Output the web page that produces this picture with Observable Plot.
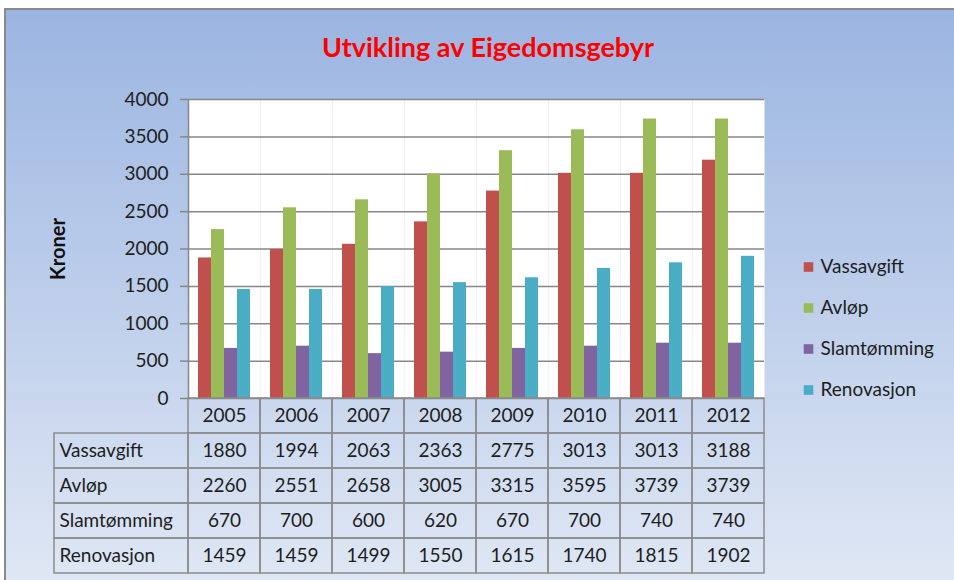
<!DOCTYPE html>
<html>
<head>
<meta charset="utf-8">
<script src="https://cdn.jsdelivr.net/npm/d3@7"></script>
<script src="https://cdn.jsdelivr.net/npm/@observablehq/plot@0.6"></script>
<style>
html, body { margin: 0; padding: 0; background: #ffffff; }
#chart { position: relative; width: 954px; height: 580px; overflow: hidden; font-family: Lato, sans-serif; }
#bg { position: absolute; left: 4px; top: 8px; right: 0; bottom: 0;
      background: linear-gradient(#9bb5e1, #dfe7f4);
      border-top: 2px solid #8a8a8a; border-left: 2px solid #8a8a8a; }
#chart svg { position: absolute; left: 0; top: 0; }
#title { position: absolute; left: 0; width: 976px; top: 32px; text-align: center;
         font: bold 27px Lato, sans-serif; color: #ff0000; line-height: 30px; }
</style>
</head>
<body>
<div id="chart"><div id="bg"></div></div>
<script>
// ---- data ----
const years = ["2005", "2006", "2007", "2008", "2009", "2010", "2011", "2012"];
const seriesNames = ["Vassavgift", "Avløp", "Slamtømming", "Renovasjon"];
const vassavgift = [1880, 1994, 2063, 2363, 2775, 3013, 3013, 3188];
const avlop = [2260, 2551, 2658, 3005, 3315, 3595, 3739, 3739];
const slamtomming = [670, 700, 600, 620, 670, 700, 740, 740];
const renovasjon = [1459, 1459, 1499, 1550, 1615, 1740, 1815, 1902];
const colors = ["#c0504d", "#9bbb59", "#8064a2", "#4bacc6"];
const yTicks = [0, 500, 1000, 1500, 2000, 2500, 3000, 3500, 4000];
const titleText = "Utvikling av Eigedomsgebyr";
const yLabel = "Kroner";
const headerKey = "år";

const seriesValues = [vassavgift, avlop, slamtomming, renovasjon];
const rows = seriesNames.flatMap((s, i) => years.map((y, j) => ({series: s, year: y, value: seriesValues[i][j]})));
const rowKeys = [headerKey, ...seriesNames];

const W = 954, H = 580;
const gridColor = "#878787";
const tableStroke = "#8c8c8c";
const textColor = "#1e1e1e";
const FS = 19;
const common = {width: W, height: H, style: "background:transparent;font-family:Lato,sans-serif;overflow:visible;"};
const chart = document.getElementById("chart");

// bars
const bars = Plot.plot({
  ...common,
  marginTop: 99, marginBottom: 182, marginLeft: 188, marginRight: 190,
  fx: {domain: years, padding: 0, axis: null, label: null},
  x: {domain: seriesNames, paddingInner: 0, paddingOuter: 0.75, axis: null},
  y: {domain: [0, 4000], axis: null},
  color: {domain: seriesNames, range: colors},
  marks: [
    Plot.frame({fill: "white", stroke: null}),
    Plot.gridY(yTicks, {stroke: gridColor, strokeOpacity: 1, strokeWidth: 1.5}),
    Plot.barY(rows, {fx: "year", x: "series", y: "value", fill: "series", insetLeft: 0, insetRight: 0})
  ]
});
chart.appendChild(bars);

// y axis
const axis = Plot.plot({
  ...common,
  marginTop: 99, marginBottom: 182, marginLeft: 188, marginRight: 190,
  x: {domain: [0, 1], axis: null},
  y: {domain: [0, 4000], axis: null},
  marks: [
    Plot.ruleX([0], {stroke: gridColor, strokeWidth: 1.5}),
    Plot.axisY(yTicks, {tickSize: 8, tickPadding: 12, stroke: gridColor, strokeWidth: 1.5, fill: textColor,
      fontSize: FS, tickFormat: d => String(d), label: null}),
    Plot.text([yLabel], {frameAnchor: "left", textAnchor: "middle", rotate: -90, dx: -130,
      fontWeight: "bold", fontSize: 20, fill: "#111"})
  ]
});
chart.appendChild(axis);

// data table
const table = Plot.plot({
  ...common,
  marginTop: 398, marginBottom: 7, marginLeft: 188, marginRight: 190,
  x: {type: "band", domain: years, padding: 0, axis: null},
  y: {type: "band", domain: rowKeys, padding: 0, axis: null},
  marks: [
    Plot.cell(years, {x: d => d, y: () => headerKey, stroke: tableStroke, strokeWidth: 1.5, fill: "none", inset: 0}),
    Plot.cell(rows, {x: "year", y: "series", stroke: tableStroke, strokeWidth: 1.5, fill: "none", inset: 0}),
    Plot.text(years, {x: d => d, y: () => headerKey, text: d => d, fontSize: FS, fill: textColor}),
    Plot.text(rows, {x: "year", y: "series", text: d => String(d.value), fontSize: FS, fill: textColor})
  ]
});
chart.appendChild(table);

// table row labels
const labels = Plot.plot({
  ...common,
  marginTop: 398, marginBottom: 7, marginLeft: 54, marginRight: 766,
  x: {type: "band", domain: ["label"], padding: 0, axis: null},
  y: {type: "band", domain: rowKeys, padding: 0, axis: null},
  marks: [
    Plot.cell(seriesNames, {x: () => "label", y: d => d, stroke: tableStroke, strokeWidth: 1.5, fill: "none", inset: 0}),
    Plot.text(seriesNames, {y: d => d, frameAnchor: "left", textAnchor: "start", dx: 5, fontSize: FS, fill: textColor})
  ]
});
chart.appendChild(labels);

// legend
const legend = Plot.plot({
  ...common,
  marginTop: 244, marginBottom: 169, marginLeft: 803, marginRight: 0,
  y: {type: "band", domain: seriesNames, padding: 0, axis: null},
  color: {domain: seriesNames, range: colors},
  marks: [
    Plot.dot(seriesNames, {y: d => d, frameAnchor: "left", symbol: "square", fill: d => d, r: 5.4, dx: 5}),
    Plot.text(seriesNames, {y: d => d, frameAnchor: "left", textAnchor: "start", dx: 17, fontSize: FS, fill: textColor})
  ]
});
chart.appendChild(legend);

const t = document.createElement("div");
t.id = "title";
t.textContent = titleText;
chart.appendChild(t);
</script>
</body>
</html>
